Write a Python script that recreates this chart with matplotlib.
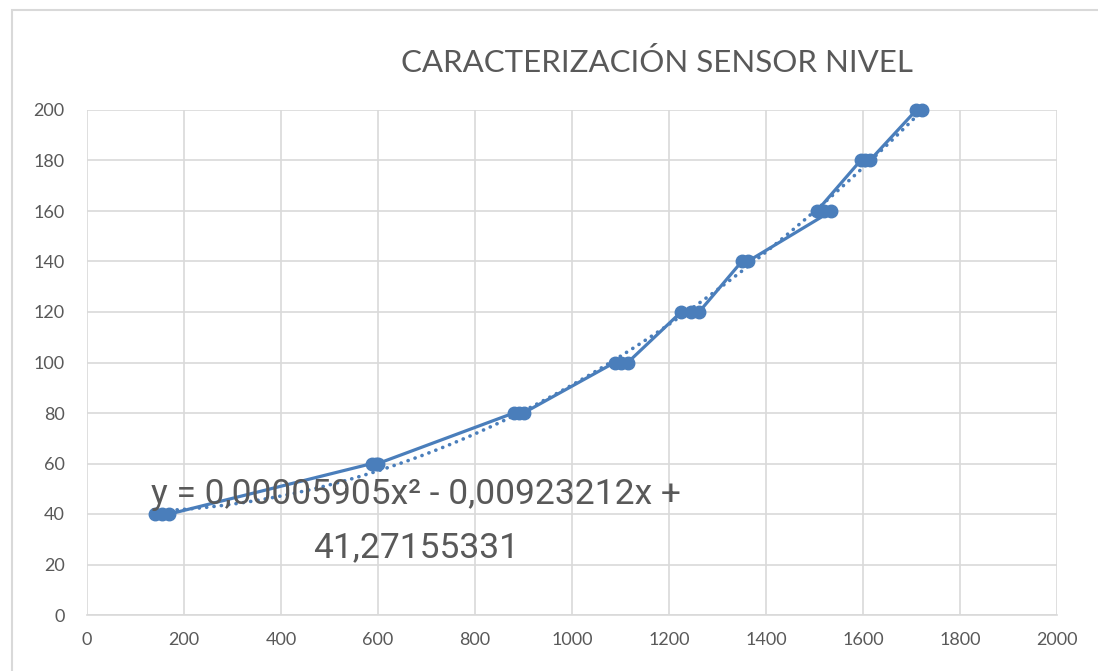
import matplotlib
matplotlib.use('Agg')
import matplotlib.pyplot as plt
import matplotlib.patches as mpatches
import numpy as np

### data
x_vals = [140, 155, 170,
          588, 595, 600,
          880, 890, 900,
          1088, 1100, 1115,
          1225, 1245, 1262,
          1350, 1362,
          1535, 1520, 1505,
          1595, 1605, 1614,
          1710, 1722]
y_vals = [40, 40, 40,
          60, 60, 60,
          80, 80, 80,
          100, 100, 100,
          120, 120, 120,
          140, 140,
          160, 160, 160,
          180, 180, 180,
          200, 200]

title = 'CARACTERIZACIÓN SENSOR NIVEL'
equation = 'y = 0,00005905x² - 0,00923212x +\n41,27155331'
x_ticks = list(range(0, 2001, 200))
y_ticks = list(range(0, 201, 20))

### style
blue = '#4a7ebb'
gray_text = '#595959'
grid_gray = '#d9d9d9'
title_font = ['Lato', 'DejaVu Sans']
tick_font = ['Lato', 'DejaVu Sans']
eq_font = ['Roboto', 'DejaVu Sans']

fig = plt.figure(figsize=(10.98, 6.71), dpi=100)
ax = fig.add_axes([87/1098, 1-615/671, (1057-87)/1098, (615-110)/671])

# chart area border (Excel-like)
fig.patches.append(mpatches.Rectangle((12/1098, -0.1), 1.2, 1.1 - 10/671,
                                      transform=fig.transFigure, fill=False,
                                      ec=grid_gray, lw=1.5))

# series: line with markers
ax.plot(x_vals, y_vals, color=blue, lw=2.3, marker='o', ms=9,
        mec=blue, mfc=blue, zorder=3, clip_on=False)

# polynomial trendline (order 2)
coef = np.polyfit(x_vals, y_vals, 2)
xs = np.linspace(min(x_vals), max(x_vals), 300)
ax.plot(xs, np.polyval(coef, xs), color=blue, lw=2.6,
        linestyle=(0, (0.05, 2.0)), dash_capstyle='round', zorder=2,
        clip_on=False)

ax.set_xlim(0, 2000)
ax.set_ylim(0, 200)
ax.set_xticks(x_ticks)
ax.set_yticks(y_ticks)
ax.grid(True, color=grid_gray, lw=1.2)
ax.set_axisbelow(True)
for s in ['top', 'right', 'left']:
    ax.spines[s].set_visible(False)
ax.spines['bottom'].set_color(grid_gray)
ax.spines['bottom'].set_linewidth(1.2)
ax.tick_params(length=0, labelsize=13, labelcolor=gray_text)
ax.tick_params(axis='x', pad=12)
ax.tick_params(axis='y', pad=16)
for lab in ax.get_xticklabels() + ax.get_yticklabels():
    lab.set_family(tick_font)

fig.text(657/1098, 1-62/671, title, ha='center', va='center',
         fontsize=22.5, color=gray_text, family=title_font)

fig.text(416/1098, 1-521/671, equation, ha='center', va='center',
         fontsize=25.5, color=gray_text, family=eq_font, linespacing=1.8,
         zorder=5)

fig.savefig('out.png', dpi=100)
